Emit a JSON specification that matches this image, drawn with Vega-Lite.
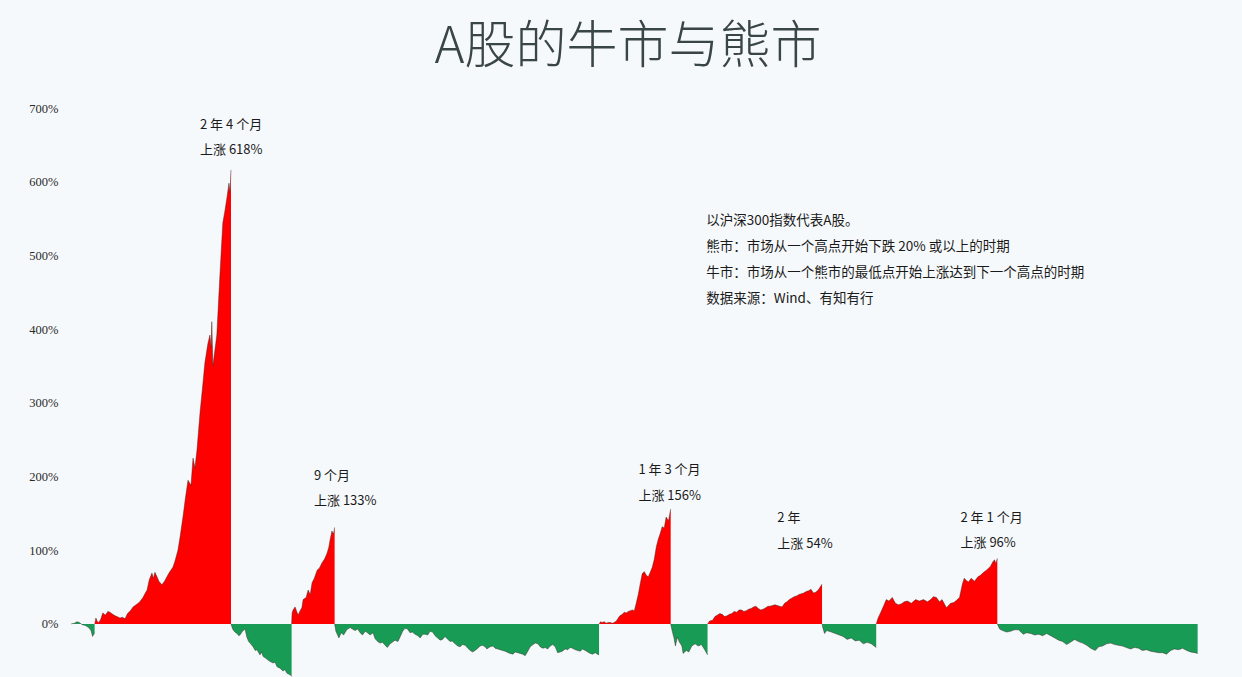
{
  "$schema": "https://vega.github.io/schema/vega-lite/v6.json",
  "width": 1132,
  "height": 569,
  "autosize": "none",
  "padding": {"left": 68, "top": 108, "right": 42, "bottom": 0},
  "background": "#f6f9fb",
  "title": {
    "text": "A股的牛市与熊市",
    "font": "Noto Sans CJK SC",
    "fontSize": 51,
    "fontWeight": 300,
    "color": "#3a4545",
    "anchor": "middle",
    "dx": -6,
    "offset": 28
  },
  "datasets": {
    "series": [
      {"date": "2005-01-04", "pct": 0, "seg": "s0", "kind": "bear"},
      {"date": "2005-01-25", "pct": 1, "seg": "s0", "kind": "bear"},
      {"date": "2005-02-10", "pct": 3, "seg": "s0", "kind": "bear"},
      {"date": "2005-02-25", "pct": 2, "seg": "s0", "kind": "bear"},
      {"date": "2005-03-15", "pct": -1, "seg": "s0", "kind": "bear"},
      {"date": "2005-04-05", "pct": -2, "seg": "s0", "kind": "bear"},
      {"date": "2005-04-25", "pct": -5, "seg": "s0", "kind": "bear"},
      {"date": "2005-05-10", "pct": -9, "seg": "s0", "kind": "bear"},
      {"date": "2005-05-20", "pct": -17, "seg": "s0", "kind": "bear"},
      {"date": "2005-06-02", "pct": -12, "seg": "s0", "kind": "bear"},

      {"date": "2005-06-03", "pct": 0, "seg": "s1", "kind": "bull"},
      {"date": "2005-06-10", "pct": 8, "seg": "s1", "kind": "bull"},
      {"date": "2005-06-20", "pct": 3, "seg": "s1", "kind": "bull"},
      {"date": "2005-06-28", "pct": 2, "seg": "s1", "kind": "bull"},
      {"date": "2005-07-10", "pct": 6, "seg": "s1", "kind": "bull"},
      {"date": "2005-07-24", "pct": 15, "seg": "s1", "kind": "bull"},
      {"date": "2005-08-10", "pct": 12, "seg": "s1", "kind": "bull"},
      {"date": "2005-08-25", "pct": 17, "seg": "s1", "kind": "bull"},
      {"date": "2005-09-07", "pct": 16, "seg": "s1", "kind": "bull"},
      {"date": "2005-09-25", "pct": 13, "seg": "s1", "kind": "bull"},
      {"date": "2005-10-10", "pct": 11, "seg": "s1", "kind": "bull"},
      {"date": "2005-10-22", "pct": 10, "seg": "s1", "kind": "bull"},
      {"date": "2005-11-10", "pct": 8, "seg": "s1", "kind": "bull"},
      {"date": "2005-11-25", "pct": 9, "seg": "s1", "kind": "bull"},
      {"date": "2005-12-12", "pct": 7, "seg": "s1", "kind": "bull"},
      {"date": "2005-12-28", "pct": 14, "seg": "s1", "kind": "bull"},
      {"date": "2006-01-15", "pct": 18, "seg": "s1", "kind": "bull"},
      {"date": "2006-02-01", "pct": 23, "seg": "s1", "kind": "bull"},
      {"date": "2006-02-20", "pct": 26, "seg": "s1", "kind": "bull"},
      {"date": "2006-03-05", "pct": 28, "seg": "s1", "kind": "bull"},
      {"date": "2006-03-16", "pct": 30, "seg": "s1", "kind": "bull"},
      {"date": "2006-04-05", "pct": 36, "seg": "s1", "kind": "bull"},
      {"date": "2006-04-20", "pct": 42, "seg": "s1", "kind": "bull"},
      {"date": "2006-05-01", "pct": 46, "seg": "s1", "kind": "bull"},
      {"date": "2006-05-15", "pct": 60, "seg": "s1", "kind": "bull"},
      {"date": "2006-06-01", "pct": 69, "seg": "s1", "kind": "bull"},
      {"date": "2006-06-10", "pct": 62, "seg": "s1", "kind": "bull"},
      {"date": "2006-06-20", "pct": 70, "seg": "s1", "kind": "bull"},
      {"date": "2006-07-03", "pct": 64, "seg": "s1", "kind": "bull"},
      {"date": "2006-07-15", "pct": 58, "seg": "s1", "kind": "bull"},
      {"date": "2006-08-03", "pct": 53, "seg": "s1", "kind": "bull"},
      {"date": "2006-08-20", "pct": 58, "seg": "s1", "kind": "bull"},
      {"date": "2006-09-04", "pct": 64, "seg": "s1", "kind": "bull"},
      {"date": "2006-09-20", "pct": 70, "seg": "s1", "kind": "bull"},
      {"date": "2006-10-12", "pct": 77, "seg": "s1", "kind": "bull"},
      {"date": "2006-10-25", "pct": 85, "seg": "s1", "kind": "bull"},
      {"date": "2006-11-13", "pct": 100, "seg": "s1", "kind": "bull"},
      {"date": "2006-11-28", "pct": 120, "seg": "s1", "kind": "bull"},
      {"date": "2006-12-15", "pct": 145, "seg": "s1", "kind": "bull"},
      {"date": "2006-12-30", "pct": 170, "seg": "s1", "kind": "bull"},
      {"date": "2007-01-16", "pct": 195, "seg": "s1", "kind": "bull"},
      {"date": "2007-02-04", "pct": 188, "seg": "s1", "kind": "bull"},
      {"date": "2007-02-17", "pct": 225, "seg": "s1", "kind": "bull"},
      {"date": "2007-03-01", "pct": 212, "seg": "s1", "kind": "bull"},
      {"date": "2007-03-14", "pct": 236, "seg": "s1", "kind": "bull"},
      {"date": "2007-04-02", "pct": 286, "seg": "s1", "kind": "bull"},
      {"date": "2007-04-18", "pct": 320, "seg": "s1", "kind": "bull"},
      {"date": "2007-05-03", "pct": 354, "seg": "s1", "kind": "bull"},
      {"date": "2007-05-22", "pct": 380, "seg": "s1", "kind": "bull"},
      {"date": "2007-06-04", "pct": 392, "seg": "s1", "kind": "bull"},
      {"date": "2007-06-12", "pct": 375, "seg": "s1", "kind": "bull"},
      {"date": "2007-06-16", "pct": 410, "seg": "s1", "kind": "bull"},
      {"date": "2007-06-23", "pct": 350, "seg": "s1", "kind": "bull"},
      {"date": "2007-07-06", "pct": 372, "seg": "s1", "kind": "bull"},
      {"date": "2007-07-18", "pct": 392, "seg": "s1", "kind": "bull"},
      {"date": "2007-08-06", "pct": 471, "seg": "s1", "kind": "bull"},
      {"date": "2007-08-25", "pct": 544, "seg": "s1", "kind": "bull"},
      {"date": "2007-09-07", "pct": 560, "seg": "s1", "kind": "bull"},
      {"date": "2007-09-20", "pct": 578, "seg": "s1", "kind": "bull"},
      {"date": "2007-10-03", "pct": 598, "seg": "s1", "kind": "bull"},
      {"date": "2007-10-10", "pct": 585, "seg": "s1", "kind": "bull"},
      {"date": "2007-10-16", "pct": 616, "seg": "s1", "kind": "bull"},

      {"date": "2007-10-16", "pct": 0, "seg": "s2", "kind": "bear"},
      {"date": "2007-10-22", "pct": -4, "seg": "s2", "kind": "bear"},
      {"date": "2007-10-29", "pct": -8, "seg": "s2", "kind": "bear"},
      {"date": "2007-11-10", "pct": -11, "seg": "s2", "kind": "bear"},
      {"date": "2007-11-23", "pct": -13, "seg": "s2", "kind": "bear"},
      {"date": "2007-12-05", "pct": -16, "seg": "s2", "kind": "bear"},
      {"date": "2007-12-12", "pct": -15, "seg": "s2", "kind": "bear"},
      {"date": "2007-12-28", "pct": -10, "seg": "s2", "kind": "bear"},
      {"date": "2008-01-13", "pct": -7, "seg": "s2", "kind": "bear"},
      {"date": "2008-01-25", "pct": -18, "seg": "s2", "kind": "bear"},
      {"date": "2008-02-05", "pct": -24, "seg": "s2", "kind": "bear"},
      {"date": "2008-02-14", "pct": -26, "seg": "s2", "kind": "bear"},
      {"date": "2008-03-04", "pct": -31, "seg": "s2", "kind": "bear"},
      {"date": "2008-03-18", "pct": -36, "seg": "s2", "kind": "bear"},
      {"date": "2008-03-29", "pct": -35, "seg": "s2", "kind": "bear"},
      {"date": "2008-04-17", "pct": -42, "seg": "s2", "kind": "bear"},
      {"date": "2008-04-28", "pct": -38, "seg": "s2", "kind": "bear"},
      {"date": "2008-05-06", "pct": -44, "seg": "s2", "kind": "bear"},
      {"date": "2008-05-20", "pct": -46, "seg": "s2", "kind": "bear"},
      {"date": "2008-06-01", "pct": -48, "seg": "s2", "kind": "bear"},
      {"date": "2008-06-20", "pct": -51, "seg": "s2", "kind": "bear"},
      {"date": "2008-07-09", "pct": -53, "seg": "s2", "kind": "bear"},
      {"date": "2008-07-22", "pct": -52, "seg": "s2", "kind": "bear"},
      {"date": "2008-08-03", "pct": -58, "seg": "s2", "kind": "bear"},
      {"date": "2008-08-22", "pct": -60, "seg": "s2", "kind": "bear"},
      {"date": "2008-09-10", "pct": -64, "seg": "s2", "kind": "bear"},
      {"date": "2008-09-22", "pct": -62, "seg": "s2", "kind": "bear"},
      {"date": "2008-10-06", "pct": -67, "seg": "s2", "kind": "bear"},
      {"date": "2008-10-25", "pct": -69, "seg": "s2", "kind": "bear"},
      {"date": "2008-11-04", "pct": -71, "seg": "s2", "kind": "bear"},

      {"date": "2008-11-04", "pct": 0, "seg": "s3", "kind": "bull"},
      {"date": "2008-11-07", "pct": 15, "seg": "s3", "kind": "bull"},
      {"date": "2008-11-13", "pct": 19, "seg": "s3", "kind": "bull"},
      {"date": "2008-11-26", "pct": 23, "seg": "s3", "kind": "bull"},
      {"date": "2008-12-08", "pct": 16, "seg": "s3", "kind": "bull"},
      {"date": "2008-12-15", "pct": 12, "seg": "s3", "kind": "bull"},
      {"date": "2008-12-28", "pct": 18, "seg": "s3", "kind": "bull"},
      {"date": "2009-01-08", "pct": 22, "seg": "s3", "kind": "bull"},
      {"date": "2009-01-16", "pct": 33, "seg": "s3", "kind": "bull"},
      {"date": "2009-02-04", "pct": 36, "seg": "s3", "kind": "bull"},
      {"date": "2009-02-17", "pct": 46, "seg": "s3", "kind": "bull"},
      {"date": "2009-03-02", "pct": 40, "seg": "s3", "kind": "bull"},
      {"date": "2009-03-14", "pct": 56, "seg": "s3", "kind": "bull"},
      {"date": "2009-03-28", "pct": 62, "seg": "s3", "kind": "bull"},
      {"date": "2009-04-15", "pct": 73, "seg": "s3", "kind": "bull"},
      {"date": "2009-04-30", "pct": 76, "seg": "s3", "kind": "bull"},
      {"date": "2009-05-16", "pct": 83, "seg": "s3", "kind": "bull"},
      {"date": "2009-06-01", "pct": 88, "seg": "s3", "kind": "bull"},
      {"date": "2009-06-17", "pct": 96, "seg": "s3", "kind": "bull"},
      {"date": "2009-06-28", "pct": 104, "seg": "s3", "kind": "bull"},
      {"date": "2009-07-06", "pct": 114, "seg": "s3", "kind": "bull"},
      {"date": "2009-07-18", "pct": 126, "seg": "s3", "kind": "bull"},
      {"date": "2009-07-28", "pct": 122, "seg": "s3", "kind": "bull"},
      {"date": "2009-08-04", "pct": 131, "seg": "s3", "kind": "bull"},

      {"date": "2009-08-04", "pct": 0, "seg": "s4", "kind": "bear"},
      {"date": "2009-08-12", "pct": -10, "seg": "s4", "kind": "bear"},
      {"date": "2009-08-31", "pct": -19, "seg": "s4", "kind": "bear"},
      {"date": "2009-09-15", "pct": -12, "seg": "s4", "kind": "bear"},
      {"date": "2009-09-30", "pct": -15, "seg": "s4", "kind": "bear"},
      {"date": "2009-10-20", "pct": -8, "seg": "s4", "kind": "bear"},
      {"date": "2009-11-10", "pct": -5, "seg": "s4", "kind": "bear"},
      {"date": "2009-11-25", "pct": -7, "seg": "s4", "kind": "bear"},
      {"date": "2009-12-12", "pct": -9, "seg": "s4", "kind": "bear"},
      {"date": "2009-12-28", "pct": -7, "seg": "s4", "kind": "bear"},
      {"date": "2010-01-13", "pct": -12, "seg": "s4", "kind": "bear"},
      {"date": "2010-01-28", "pct": -15, "seg": "s4", "kind": "bear"},
      {"date": "2010-02-14", "pct": -10, "seg": "s4", "kind": "bear"},
      {"date": "2010-03-01", "pct": -12, "seg": "s4", "kind": "bear"},
      {"date": "2010-03-17", "pct": -15, "seg": "s4", "kind": "bear"},
      {"date": "2010-04-05", "pct": -12, "seg": "s4", "kind": "bear"},
      {"date": "2010-04-18", "pct": -20, "seg": "s4", "kind": "bear"},
      {"date": "2010-05-05", "pct": -24, "seg": "s4", "kind": "bear"},
      {"date": "2010-05-19", "pct": -26, "seg": "s4", "kind": "bear"},
      {"date": "2010-06-05", "pct": -25, "seg": "s4", "kind": "bear"},
      {"date": "2010-06-20", "pct": -29, "seg": "s4", "kind": "bear"},
      {"date": "2010-07-05", "pct": -32, "seg": "s4", "kind": "bear"},
      {"date": "2010-07-22", "pct": -27, "seg": "s4", "kind": "bear"},
      {"date": "2010-08-05", "pct": -25, "seg": "s4", "kind": "bear"},
      {"date": "2010-08-22", "pct": -22, "seg": "s4", "kind": "bear"},
      {"date": "2010-09-10", "pct": -24, "seg": "s4", "kind": "bear"},
      {"date": "2010-09-23", "pct": -18, "seg": "s4", "kind": "bear"},
      {"date": "2010-10-10", "pct": -10, "seg": "s4", "kind": "bear"},
      {"date": "2010-10-25", "pct": -6, "seg": "s4", "kind": "bear"},
      {"date": "2010-11-10", "pct": -7, "seg": "s4", "kind": "bear"},
      {"date": "2010-11-26", "pct": -12, "seg": "s4", "kind": "bear"},
      {"date": "2010-12-10", "pct": -11, "seg": "s4", "kind": "bear"},
      {"date": "2010-12-28", "pct": -14, "seg": "s4", "kind": "bear"},
      {"date": "2011-01-15", "pct": -16, "seg": "s4", "kind": "bear"},
      {"date": "2011-01-29", "pct": -19, "seg": "s4", "kind": "bear"},
      {"date": "2011-02-15", "pct": -14, "seg": "s4", "kind": "bear"},
      {"date": "2011-03-02", "pct": -14, "seg": "s4", "kind": "bear"},
      {"date": "2011-03-18", "pct": -15, "seg": "s4", "kind": "bear"},
      {"date": "2011-04-02", "pct": -10, "seg": "s4", "kind": "bear"},
      {"date": "2011-04-18", "pct": -11, "seg": "s4", "kind": "bear"},
      {"date": "2011-05-04", "pct": -16, "seg": "s4", "kind": "bear"},
      {"date": "2011-05-20", "pct": -19, "seg": "s4", "kind": "bear"},
      {"date": "2011-06-05", "pct": -22, "seg": "s4", "kind": "bear"},
      {"date": "2011-06-20", "pct": -21, "seg": "s4", "kind": "bear"},
      {"date": "2011-07-06", "pct": -17, "seg": "s4", "kind": "bear"},
      {"date": "2011-07-20", "pct": -20, "seg": "s4", "kind": "bear"},
      {"date": "2011-08-07", "pct": -24, "seg": "s4", "kind": "bear"},
      {"date": "2011-08-20", "pct": -23, "seg": "s4", "kind": "bear"},
      {"date": "2011-09-08", "pct": -27, "seg": "s4", "kind": "bear"},
      {"date": "2011-09-25", "pct": -30, "seg": "s4", "kind": "bear"},
      {"date": "2011-10-10", "pct": -31, "seg": "s4", "kind": "bear"},
      {"date": "2011-10-25", "pct": -28, "seg": "s4", "kind": "bear"},
      {"date": "2011-11-11", "pct": -29, "seg": "s4", "kind": "bear"},
      {"date": "2011-11-28", "pct": -33, "seg": "s4", "kind": "bear"},
      {"date": "2011-12-13", "pct": -36, "seg": "s4", "kind": "bear"},
      {"date": "2011-12-28", "pct": -38, "seg": "s4", "kind": "bear"},
      {"date": "2012-01-13", "pct": -36, "seg": "s4", "kind": "bear"},
      {"date": "2012-01-30", "pct": -33, "seg": "s4", "kind": "bear"},
      {"date": "2012-02-14", "pct": -30, "seg": "s4", "kind": "bear"},
      {"date": "2012-03-01", "pct": -29, "seg": "s4", "kind": "bear"},
      {"date": "2012-03-16", "pct": -31, "seg": "s4", "kind": "bear"},
      {"date": "2012-03-28", "pct": -34, "seg": "s4", "kind": "bear"},
      {"date": "2012-04-17", "pct": -31, "seg": "s4", "kind": "bear"},
      {"date": "2012-05-05", "pct": -30, "seg": "s4", "kind": "bear"},
      {"date": "2012-05-19", "pct": -33, "seg": "s4", "kind": "bear"},
      {"date": "2012-06-05", "pct": -34, "seg": "s4", "kind": "bear"},
      {"date": "2012-06-20", "pct": -35, "seg": "s4", "kind": "bear"},
      {"date": "2012-07-05", "pct": -36, "seg": "s4", "kind": "bear"},
      {"date": "2012-07-22", "pct": -37, "seg": "s4", "kind": "bear"},
      {"date": "2012-08-10", "pct": -39, "seg": "s4", "kind": "bear"},
      {"date": "2012-08-22", "pct": -40, "seg": "s4", "kind": "bear"},
      {"date": "2012-09-10", "pct": -41, "seg": "s4", "kind": "bear"},
      {"date": "2012-09-23", "pct": -38, "seg": "s4", "kind": "bear"},
      {"date": "2012-10-10", "pct": -39, "seg": "s4", "kind": "bear"},
      {"date": "2012-10-25", "pct": -40, "seg": "s4", "kind": "bear"},
      {"date": "2012-11-10", "pct": -41, "seg": "s4", "kind": "bear"},
      {"date": "2012-11-26", "pct": -43, "seg": "s4", "kind": "bear"},
      {"date": "2012-12-10", "pct": -38, "seg": "s4", "kind": "bear"},
      {"date": "2012-12-28", "pct": -31, "seg": "s4", "kind": "bear"},
      {"date": "2013-01-15", "pct": -28, "seg": "s4", "kind": "bear"},
      {"date": "2013-01-29", "pct": -26, "seg": "s4", "kind": "bear"},
      {"date": "2013-02-15", "pct": -27, "seg": "s4", "kind": "bear"},
      {"date": "2013-03-01", "pct": -31, "seg": "s4", "kind": "bear"},
      {"date": "2013-03-18", "pct": -33, "seg": "s4", "kind": "bear"},
      {"date": "2013-04-02", "pct": -32, "seg": "s4", "kind": "bear"},
      {"date": "2013-04-18", "pct": -34, "seg": "s4", "kind": "bear"},
      {"date": "2013-05-04", "pct": -30, "seg": "s4", "kind": "bear"},
      {"date": "2013-05-20", "pct": -28, "seg": "s4", "kind": "bear"},
      {"date": "2013-06-05", "pct": -31, "seg": "s4", "kind": "bear"},
      {"date": "2013-06-20", "pct": -39, "seg": "s4", "kind": "bear"},
      {"date": "2013-07-06", "pct": -38, "seg": "s4", "kind": "bear"},
      {"date": "2013-07-20", "pct": -37, "seg": "s4", "kind": "bear"},
      {"date": "2013-08-07", "pct": -34, "seg": "s4", "kind": "bear"},
      {"date": "2013-08-22", "pct": -35, "seg": "s4", "kind": "bear"},
      {"date": "2013-09-08", "pct": -32, "seg": "s4", "kind": "bear"},
      {"date": "2013-09-22", "pct": -33, "seg": "s4", "kind": "bear"},
      {"date": "2013-10-10", "pct": -35, "seg": "s4", "kind": "bear"},
      {"date": "2013-10-25", "pct": -36, "seg": "s4", "kind": "bear"},
      {"date": "2013-11-11", "pct": -37, "seg": "s4", "kind": "bear"},
      {"date": "2013-11-25", "pct": -34, "seg": "s4", "kind": "bear"},
      {"date": "2013-12-13", "pct": -36, "seg": "s4", "kind": "bear"},
      {"date": "2013-12-28", "pct": -38, "seg": "s4", "kind": "bear"},
      {"date": "2014-01-13", "pct": -40, "seg": "s4", "kind": "bear"},
      {"date": "2014-01-28", "pct": -41, "seg": "s4", "kind": "bear"},
      {"date": "2014-02-14", "pct": -39, "seg": "s4", "kind": "bear"},
      {"date": "2014-02-28", "pct": -41, "seg": "s4", "kind": "bear"},
      {"date": "2014-03-10", "pct": -42, "seg": "s4", "kind": "bear"},

      {"date": "2014-03-10", "pct": 0, "seg": "s5", "kind": "bull"},
      {"date": "2014-03-20", "pct": 3, "seg": "s5", "kind": "bull"},
      {"date": "2014-03-30", "pct": 2, "seg": "s5", "kind": "bull"},
      {"date": "2014-04-12", "pct": 3, "seg": "s5", "kind": "bull"},
      {"date": "2014-04-24", "pct": 1, "seg": "s5", "kind": "bull"},
      {"date": "2014-05-08", "pct": 2, "seg": "s5", "kind": "bull"},
      {"date": "2014-05-20", "pct": 2, "seg": "s5", "kind": "bull"},
      {"date": "2014-06-02", "pct": 1, "seg": "s5", "kind": "bull"},
      {"date": "2014-06-14", "pct": 2, "seg": "s5", "kind": "bull"},
      {"date": "2014-06-28", "pct": 4, "seg": "s5", "kind": "bull"},
      {"date": "2014-07-10", "pct": 8, "seg": "s5", "kind": "bull"},
      {"date": "2014-07-20", "pct": 11, "seg": "s5", "kind": "bull"},
      {"date": "2014-07-29", "pct": 12, "seg": "s5", "kind": "bull"},
      {"date": "2014-08-10", "pct": 14, "seg": "s5", "kind": "bull"},
      {"date": "2014-08-17", "pct": 16, "seg": "s5", "kind": "bull"},
      {"date": "2014-08-30", "pct": 15, "seg": "s5", "kind": "bull"},
      {"date": "2014-09-11", "pct": 17, "seg": "s5", "kind": "bull"},
      {"date": "2014-09-25", "pct": 18, "seg": "s5", "kind": "bull"},
      {"date": "2014-10-07", "pct": 19, "seg": "s5", "kind": "bull"},
      {"date": "2014-10-20", "pct": 18, "seg": "s5", "kind": "bull"},
      {"date": "2014-11-01", "pct": 28, "seg": "s5", "kind": "bull"},
      {"date": "2014-11-14", "pct": 40, "seg": "s5", "kind": "bull"},
      {"date": "2014-11-27", "pct": 55, "seg": "s5", "kind": "bull"},
      {"date": "2014-12-09", "pct": 68, "seg": "s5", "kind": "bull"},
      {"date": "2014-12-22", "pct": 71, "seg": "s5", "kind": "bull"},
      {"date": "2015-01-04", "pct": 66, "seg": "s5", "kind": "bull"},
      {"date": "2015-01-17", "pct": 64, "seg": "s5", "kind": "bull"},
      {"date": "2015-01-29", "pct": 70, "seg": "s5", "kind": "bull"},
      {"date": "2015-02-11", "pct": 77, "seg": "s5", "kind": "bull"},
      {"date": "2015-02-24", "pct": 88, "seg": "s5", "kind": "bull"},
      {"date": "2015-03-09", "pct": 105, "seg": "s5", "kind": "bull"},
      {"date": "2015-03-21", "pct": 115, "seg": "s5", "kind": "bull"},
      {"date": "2015-04-03", "pct": 123, "seg": "s5", "kind": "bull"},
      {"date": "2015-04-15", "pct": 132, "seg": "s5", "kind": "bull"},
      {"date": "2015-04-28", "pct": 130, "seg": "s5", "kind": "bull"},
      {"date": "2015-05-10", "pct": 145, "seg": "s5", "kind": "bull"},
      {"date": "2015-05-25", "pct": 140, "seg": "s5", "kind": "bull"},
      {"date": "2015-06-08", "pct": 156, "seg": "s5", "kind": "bull"},

      {"date": "2015-06-08", "pct": 0, "seg": "s6", "kind": "bear"},
      {"date": "2015-06-18", "pct": -10, "seg": "s6", "kind": "bear"},
      {"date": "2015-06-30", "pct": -20, "seg": "s6", "kind": "bear"},
      {"date": "2015-07-08", "pct": -30, "seg": "s6", "kind": "bear"},
      {"date": "2015-07-20", "pct": -18, "seg": "s6", "kind": "bear"},
      {"date": "2015-08-03", "pct": -25, "seg": "s6", "kind": "bear"},
      {"date": "2015-08-18", "pct": -30, "seg": "s6", "kind": "bear"},
      {"date": "2015-08-26", "pct": -40, "seg": "s6", "kind": "bear"},
      {"date": "2015-09-15", "pct": -36, "seg": "s6", "kind": "bear"},
      {"date": "2015-10-01", "pct": -38, "seg": "s6", "kind": "bear"},
      {"date": "2015-10-20", "pct": -30, "seg": "s6", "kind": "bear"},
      {"date": "2015-11-10", "pct": -27, "seg": "s6", "kind": "bear"},
      {"date": "2015-11-30", "pct": -30, "seg": "s6", "kind": "bear"},
      {"date": "2015-12-20", "pct": -28, "seg": "s6", "kind": "bear"},
      {"date": "2016-01-10", "pct": -35, "seg": "s6", "kind": "bear"},
      {"date": "2016-01-28", "pct": -42, "seg": "s6", "kind": "bear"},

      {"date": "2016-01-28", "pct": 0, "seg": "s7", "kind": "bull"},
      {"date": "2016-02-10", "pct": 4, "seg": "s7", "kind": "bull"},
      {"date": "2016-02-29", "pct": 5, "seg": "s7", "kind": "bull"},
      {"date": "2016-03-15", "pct": 10, "seg": "s7", "kind": "bull"},
      {"date": "2016-03-31", "pct": 12, "seg": "s7", "kind": "bull"},
      {"date": "2016-04-15", "pct": 14, "seg": "s7", "kind": "bull"},
      {"date": "2016-04-30", "pct": 13, "seg": "s7", "kind": "bull"},
      {"date": "2016-05-15", "pct": 10, "seg": "s7", "kind": "bull"},
      {"date": "2016-05-31", "pct": 11, "seg": "s7", "kind": "bull"},
      {"date": "2016-06-15", "pct": 13, "seg": "s7", "kind": "bull"},
      {"date": "2016-06-30", "pct": 14, "seg": "s7", "kind": "bull"},
      {"date": "2016-07-15", "pct": 17, "seg": "s7", "kind": "bull"},
      {"date": "2016-07-31", "pct": 16, "seg": "s7", "kind": "bull"},
      {"date": "2016-08-15", "pct": 19, "seg": "s7", "kind": "bull"},
      {"date": "2016-08-31", "pct": 19, "seg": "s7", "kind": "bull"},
      {"date": "2016-09-15", "pct": 17, "seg": "s7", "kind": "bull"},
      {"date": "2016-09-30", "pct": 18, "seg": "s7", "kind": "bull"},
      {"date": "2016-10-15", "pct": 20, "seg": "s7", "kind": "bull"},
      {"date": "2016-10-31", "pct": 21, "seg": "s7", "kind": "bull"},
      {"date": "2016-11-15", "pct": 23, "seg": "s7", "kind": "bull"},
      {"date": "2016-11-30", "pct": 24, "seg": "s7", "kind": "bull"},
      {"date": "2016-12-15", "pct": 21, "seg": "s7", "kind": "bull"},
      {"date": "2016-12-31", "pct": 19, "seg": "s7", "kind": "bull"},
      {"date": "2017-01-15", "pct": 20, "seg": "s7", "kind": "bull"},
      {"date": "2017-01-31", "pct": 22, "seg": "s7", "kind": "bull"},
      {"date": "2017-02-15", "pct": 24, "seg": "s7", "kind": "bull"},
      {"date": "2017-02-28", "pct": 24, "seg": "s7", "kind": "bull"},
      {"date": "2017-03-15", "pct": 25, "seg": "s7", "kind": "bull"},
      {"date": "2017-03-31", "pct": 26, "seg": "s7", "kind": "bull"},
      {"date": "2017-04-15", "pct": 25, "seg": "s7", "kind": "bull"},
      {"date": "2017-04-30", "pct": 24, "seg": "s7", "kind": "bull"},
      {"date": "2017-05-15", "pct": 23, "seg": "s7", "kind": "bull"},
      {"date": "2017-05-31", "pct": 28, "seg": "s7", "kind": "bull"},
      {"date": "2017-06-15", "pct": 30, "seg": "s7", "kind": "bull"},
      {"date": "2017-06-30", "pct": 33, "seg": "s7", "kind": "bull"},
      {"date": "2017-07-15", "pct": 35, "seg": "s7", "kind": "bull"},
      {"date": "2017-07-31", "pct": 37, "seg": "s7", "kind": "bull"},
      {"date": "2017-08-15", "pct": 38, "seg": "s7", "kind": "bull"},
      {"date": "2017-08-31", "pct": 40, "seg": "s7", "kind": "bull"},
      {"date": "2017-09-15", "pct": 41, "seg": "s7", "kind": "bull"},
      {"date": "2017-09-30", "pct": 42, "seg": "s7", "kind": "bull"},
      {"date": "2017-10-15", "pct": 44, "seg": "s7", "kind": "bull"},
      {"date": "2017-10-31", "pct": 45, "seg": "s7", "kind": "bull"},
      {"date": "2017-11-15", "pct": 47, "seg": "s7", "kind": "bull"},
      {"date": "2017-11-30", "pct": 42, "seg": "s7", "kind": "bull"},
      {"date": "2017-12-15", "pct": 43, "seg": "s7", "kind": "bull"},
      {"date": "2017-12-31", "pct": 46, "seg": "s7", "kind": "bull"},
      {"date": "2018-01-12", "pct": 50, "seg": "s7", "kind": "bull"},
      {"date": "2018-01-24", "pct": 54, "seg": "s7", "kind": "bull"},

      {"date": "2018-01-24", "pct": 0, "seg": "s8", "kind": "bear"},
      {"date": "2018-01-30", "pct": -6, "seg": "s8", "kind": "bear"},
      {"date": "2018-02-09", "pct": -13, "seg": "s8", "kind": "bear"},
      {"date": "2018-02-23", "pct": -9, "seg": "s8", "kind": "bear"},
      {"date": "2018-03-24", "pct": -11, "seg": "s8", "kind": "bear"},
      {"date": "2018-04-18", "pct": -13, "seg": "s8", "kind": "bear"},
      {"date": "2018-05-13", "pct": -15, "seg": "s8", "kind": "bear"},
      {"date": "2018-06-07", "pct": -17, "seg": "s8", "kind": "bear"},
      {"date": "2018-07-03", "pct": -21, "seg": "s8", "kind": "bear"},
      {"date": "2018-07-28", "pct": -19, "seg": "s8", "kind": "bear"},
      {"date": "2018-08-23", "pct": -23, "seg": "s8", "kind": "bear"},
      {"date": "2018-09-17", "pct": -22, "seg": "s8", "kind": "bear"},
      {"date": "2018-10-13", "pct": -27, "seg": "s8", "kind": "bear"},
      {"date": "2018-11-07", "pct": -25, "seg": "s8", "kind": "bear"},
      {"date": "2018-12-03", "pct": -27, "seg": "s8", "kind": "bear"},
      {"date": "2018-12-21", "pct": -30, "seg": "s8", "kind": "bear"},
      {"date": "2019-01-03", "pct": -32, "seg": "s8", "kind": "bear"},

      {"date": "2019-01-03", "pct": 0, "seg": "s9", "kind": "bull"},
      {"date": "2019-01-15", "pct": 8, "seg": "s9", "kind": "bull"},
      {"date": "2019-01-30", "pct": 15, "seg": "s9", "kind": "bull"},
      {"date": "2019-02-20", "pct": 25, "seg": "s9", "kind": "bull"},
      {"date": "2019-03-08", "pct": 33, "seg": "s9", "kind": "bull"},
      {"date": "2019-03-25", "pct": 31, "seg": "s9", "kind": "bull"},
      {"date": "2019-04-15", "pct": 36, "seg": "s9", "kind": "bull"},
      {"date": "2019-05-05", "pct": 28, "seg": "s9", "kind": "bull"},
      {"date": "2019-05-23", "pct": 26, "seg": "s9", "kind": "bull"},
      {"date": "2019-06-10", "pct": 27, "seg": "s9", "kind": "bull"},
      {"date": "2019-06-30", "pct": 30, "seg": "s9", "kind": "bull"},
      {"date": "2019-07-20", "pct": 31, "seg": "s9", "kind": "bull"},
      {"date": "2019-08-14", "pct": 28, "seg": "s9", "kind": "bull"},
      {"date": "2019-09-10", "pct": 33, "seg": "s9", "kind": "bull"},
      {"date": "2019-10-04", "pct": 31, "seg": "s9", "kind": "bull"},
      {"date": "2019-10-30", "pct": 33, "seg": "s9", "kind": "bull"},
      {"date": "2019-11-24", "pct": 30, "seg": "s9", "kind": "bull"},
      {"date": "2019-12-15", "pct": 33, "seg": "s9", "kind": "bull"},
      {"date": "2020-01-01", "pct": 37, "seg": "s9", "kind": "bull"},
      {"date": "2020-01-20", "pct": 36, "seg": "s9", "kind": "bull"},
      {"date": "2020-02-09", "pct": 30, "seg": "s9", "kind": "bull"},
      {"date": "2020-02-25", "pct": 33, "seg": "s9", "kind": "bull"},
      {"date": "2020-03-24", "pct": 22, "seg": "s9", "kind": "bull"},
      {"date": "2020-04-19", "pct": 28, "seg": "s9", "kind": "bull"},
      {"date": "2020-05-10", "pct": 29, "seg": "s9", "kind": "bull"},
      {"date": "2020-05-27", "pct": 32, "seg": "s9", "kind": "bull"},
      {"date": "2020-06-15", "pct": 36, "seg": "s9", "kind": "bull"},
      {"date": "2020-07-04", "pct": 55, "seg": "s9", "kind": "bull"},
      {"date": "2020-07-15", "pct": 62, "seg": "s9", "kind": "bull"},
      {"date": "2020-07-28", "pct": 59, "seg": "s9", "kind": "bull"},
      {"date": "2020-08-11", "pct": 57, "seg": "s9", "kind": "bull"},
      {"date": "2020-08-28", "pct": 62, "seg": "s9", "kind": "bull"},
      {"date": "2020-09-18", "pct": 58, "seg": "s9", "kind": "bull"},
      {"date": "2020-10-10", "pct": 64, "seg": "s9", "kind": "bull"},
      {"date": "2020-10-26", "pct": 66, "seg": "s9", "kind": "bull"},
      {"date": "2020-11-15", "pct": 70, "seg": "s9", "kind": "bull"},
      {"date": "2020-12-03", "pct": 73, "seg": "s9", "kind": "bull"},
      {"date": "2020-12-28", "pct": 78, "seg": "s9", "kind": "bull"},
      {"date": "2021-01-12", "pct": 84, "seg": "s9", "kind": "bull"},
      {"date": "2021-01-23", "pct": 87, "seg": "s9", "kind": "bull"},
      {"date": "2021-02-01", "pct": 82, "seg": "s9", "kind": "bull"},
      {"date": "2021-02-10", "pct": 89, "seg": "s9", "kind": "bull"},

      {"date": "2021-02-10", "pct": 0, "seg": "s10", "kind": "bear"},
      {"date": "2021-02-25", "pct": -7, "seg": "s10", "kind": "bear"},
      {"date": "2021-03-15", "pct": -9, "seg": "s10", "kind": "bear"},
      {"date": "2021-04-10", "pct": -11, "seg": "s10", "kind": "bear"},
      {"date": "2021-05-05", "pct": -10, "seg": "s10", "kind": "bear"},
      {"date": "2021-05-30", "pct": -8, "seg": "s10", "kind": "bear"},
      {"date": "2021-06-25", "pct": -8, "seg": "s10", "kind": "bear"},
      {"date": "2021-07-25", "pct": -14, "seg": "s10", "kind": "bear"},
      {"date": "2021-08-15", "pct": -12, "seg": "s10", "kind": "bear"},
      {"date": "2021-09-10", "pct": -13, "seg": "s10", "kind": "bear"},
      {"date": "2021-10-05", "pct": -15, "seg": "s10", "kind": "bear"},
      {"date": "2021-10-30", "pct": -14, "seg": "s10", "kind": "bear"},
      {"date": "2021-11-25", "pct": -16, "seg": "s10", "kind": "bear"},
      {"date": "2021-12-20", "pct": -13, "seg": "s10", "kind": "bear"},
      {"date": "2022-01-15", "pct": -16, "seg": "s10", "kind": "bear"},
      {"date": "2022-02-10", "pct": -19, "seg": "s10", "kind": "bear"},
      {"date": "2022-03-06", "pct": -22, "seg": "s10", "kind": "bear"},
      {"date": "2022-04-01", "pct": -24, "seg": "s10", "kind": "bear"},
      {"date": "2022-04-26", "pct": -28, "seg": "s10", "kind": "bear"},
      {"date": "2022-05-20", "pct": -25, "seg": "s10", "kind": "bear"},
      {"date": "2022-06-16", "pct": -21, "seg": "s10", "kind": "bear"},
      {"date": "2022-07-10", "pct": -24, "seg": "s10", "kind": "bear"},
      {"date": "2022-08-06", "pct": -26, "seg": "s10", "kind": "bear"},
      {"date": "2022-09-01", "pct": -29, "seg": "s10", "kind": "bear"},
      {"date": "2022-09-26", "pct": -33, "seg": "s10", "kind": "bear"},
      {"date": "2022-10-25", "pct": -36, "seg": "s10", "kind": "bear"},
      {"date": "2022-11-16", "pct": -31, "seg": "s10", "kind": "bear"},
      {"date": "2022-12-10", "pct": -30, "seg": "s10", "kind": "bear"},
      {"date": "2023-01-05", "pct": -27, "seg": "s10", "kind": "bear"},
      {"date": "2023-01-30", "pct": -26, "seg": "s10", "kind": "bear"},
      {"date": "2023-02-25", "pct": -28, "seg": "s10", "kind": "bear"},
      {"date": "2023-03-20", "pct": -29, "seg": "s10", "kind": "bear"},
      {"date": "2023-04-16", "pct": -30, "seg": "s10", "kind": "bear"},
      {"date": "2023-05-10", "pct": -32, "seg": "s10", "kind": "bear"},
      {"date": "2023-06-06", "pct": -34, "seg": "s10", "kind": "bear"},
      {"date": "2023-07-01", "pct": -32, "seg": "s10", "kind": "bear"},
      {"date": "2023-07-27", "pct": -33, "seg": "s10", "kind": "bear"},
      {"date": "2023-08-20", "pct": -36, "seg": "s10", "kind": "bear"},
      {"date": "2023-09-16", "pct": -35, "seg": "s10", "kind": "bear"},
      {"date": "2023-10-10", "pct": -37, "seg": "s10", "kind": "bear"},
      {"date": "2023-11-06", "pct": -38, "seg": "s10", "kind": "bear"},
      {"date": "2023-12-01", "pct": -39, "seg": "s10", "kind": "bear"},
      {"date": "2023-12-27", "pct": -39, "seg": "s10", "kind": "bear"},
      {"date": "2024-01-20", "pct": -41, "seg": "s10", "kind": "bear"},
      {"date": "2024-02-16", "pct": -36, "seg": "s10", "kind": "bear"},
      {"date": "2024-03-10", "pct": -34, "seg": "s10", "kind": "bear"},
      {"date": "2024-04-07", "pct": -35, "seg": "s10", "kind": "bear"},
      {"date": "2024-05-01", "pct": -33, "seg": "s10", "kind": "bear"},
      {"date": "2024-05-28", "pct": -36, "seg": "s10", "kind": "bear"},
      {"date": "2024-06-20", "pct": -38, "seg": "s10", "kind": "bear"},
      {"date": "2024-07-17", "pct": -39, "seg": "s10", "kind": "bear"},
      {"date": "2024-08-05", "pct": -40, "seg": "s10", "kind": "bear"}
    ],
    "labels": [
      {"date": "2007-04-02", "pct": 677, "text": "2 年 4 个月"},
      {"date": "2007-04-02", "pct": 643, "text": "上涨 618%"},
      {"date": "2009-03-26", "pct": 201, "text": "9 个月"},
      {"date": "2009-03-26", "pct": 167, "text": "上涨 133%"},
      {"date": "2014-11-15", "pct": 209, "text": "1 年 3 个月"},
      {"date": "2014-11-15", "pct": 174, "text": "上涨 156%"},
      {"date": "2017-04-15", "pct": 144, "text": "2 年"},
      {"date": "2017-04-15", "pct": 109, "text": "上涨 54%"},
      {"date": "2020-06-21", "pct": 144, "text": "2 年 1 个月"},
      {"date": "2020-06-21", "pct": 110, "text": "上涨 96%"}
    ],
    "notes": [
      {"date": "2016-01-20", "pct": 547, "text": "以沪深300指数代表A股。"},
      {"date": "2016-01-20", "pct": 511, "text": "熊市：市场从一个高点开始下跌 20% 或以上的时期"},
      {"date": "2016-01-20", "pct": 476, "text": "牛市：市场从一个熊市的最低点开始上涨达到下一个高点的时期"},
      {"date": "2016-01-20", "pct": 441, "text": "数据来源：Wind、有知有行"}
    ]
  },
  "layer": [
    {
      "data": {"name": "series"},
      "mark": {"type": "area", "interpolate": "linear"},
      "encoding": {
        "x": {
          "field": "date",
          "type": "temporal",
          "scale": {"domain": [{"year": 2004, "month": 12, "date": 15}, {"year": 2024, "month": 8, "date": 20}]},
          "axis": null
        },
        "y": {
          "field": "pct",
          "type": "quantitative",
          "stack": null,
          "scale": {"domain": [-72, 700], "nice": false},
          "axis": {
            "values": [0, 100, 200, 300, 400, 500, 600, 700],
            "labelExpr": "datum.value + '%'",
            "title": null,
            "grid": false,
            "domain": false,
            "ticks": false,
            "labelPadding": 10,
            "labelFont": "Liberation Serif",
            "labelFontSize": 12.5,
            "labelColor": "#2a2a2a"
          }
        },
        "color": {
          "field": "kind",
          "type": "nominal",
          "scale": {"domain": ["bull", "bear"], "range": ["#ff0000", "#179b55"]},
          "legend": null
        },
        "detail": {"field": "seg"}
      }
    },
    {
      "data": {"name": "series"},
      "mark": {"type": "line", "color": "#3a2020", "strokeWidth": 0.8, "opacity": 0.55},
      "encoding": {
        "x": {"field": "date", "type": "temporal"},
        "y": {"field": "pct", "type": "quantitative"},
        "detail": {"field": "seg"}
      }
    },
    {
      "data": {"name": "labels"},
      "mark": {"type": "text", "align": "left", "baseline": "middle", "font": "Noto Sans CJK SC", "fontSize": 13, "color": "#1a1a1a"},
      "encoding": {
        "x": {"field": "date", "type": "temporal"},
        "y": {"field": "pct", "type": "quantitative"},
        "text": {"field": "text"}
      }
    },
    {
      "data": {"name": "notes"},
      "mark": {"type": "text", "align": "left", "baseline": "middle", "font": "Noto Sans CJK SC", "fontSize": 13.5, "color": "#1a1a1a"},
      "encoding": {
        "x": {"field": "date", "type": "temporal"},
        "y": {"field": "pct", "type": "quantitative"},
        "text": {"field": "text"}
      }
    }
  ],
  "config": {"view": {"stroke": null}}
}
